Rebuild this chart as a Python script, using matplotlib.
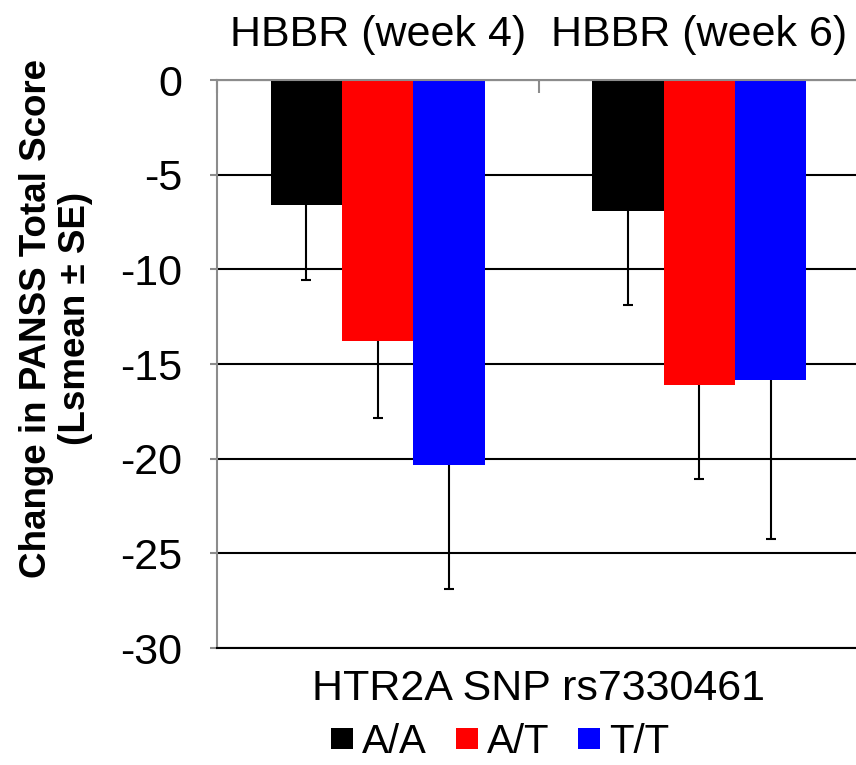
import matplotlib
matplotlib.use("Agg")
import matplotlib.pyplot as plt
from matplotlib.patches import Patch
import numpy as np

categories = ["HBBR (week 4)", "HBBR (week 6)"]
genotypes = ["A/A", "A/T", "T/T"]
colors = ["#000000", "#ff0000", "#0000ff"]
lsmean_AA = [-6.58, -6.93]
lsmean_AT = [-13.80, -16.10]
lsmean_TT = [-20.32, -15.83]
se_AA = [3.98, 4.98]
se_AT = [4.05, 4.97]
se_TT = [6.55, 8.42]
yticks = [0, -5, -10, -15, -20, -25, -30]

plt.rcParams['font.family'] = ['Liberation Sans', 'DejaVu Sans']

W, H = 856, 765
FS = 31
fig = plt.figure(figsize=(W / 100, H / 100), dpi=100)
ax = fig.add_axes([217 / W, (H - 648) / H, 643 / W, 568 / H])

x = np.arange(len(categories))
bw = 0.222
means = [lsmean_AA, lsmean_AT, lsmean_TT]
ses = [se_AA, se_AT, se_TT]
for i, (m, s, c) in enumerate(zip(means, ses, colors)):
    pos = x + (i - 1) * bw
    ax.bar(pos, m, width=bw, color=c, zorder=2, linewidth=0)
    yerr = np.array([s, np.zeros(len(s))])
    eb = ax.errorbar(pos, m, yerr=yerr, fmt='none', ecolor='black', elinewidth=1.5,
                     capsize=3.3, capthick=1.5, zorder=3)
    for cl in eb[1]:
        if np.allclose(cl.get_ydata(), m):
            cl.set_visible(False)

ax.set_xlim(-0.5, 1.5)
ax.set_ylim(-30, 0)
ax.set_yticks(yticks)
ax.set_yticklabels([str(v) for v in yticks], fontsize=FS)
ax.yaxis.grid(True, color='black', linewidth=1.5, zorder=0)
ax.set_axisbelow(True)

ax.set_xticks(x)
ax.set_xticklabels(categories, fontsize=FS)
ax.set_xticks([-0.5, 0.5, 1.5], minor=True)
ax.tick_params(axis='x', which='major', top=True, labeltop=True, bottom=False,
               labelbottom=False, length=0, pad=18)
ax.tick_params(axis='x', which='minor', top=True, bottom=False, direction='in',
               length=9, width=1.5, color='#8c8c8c')
ax.tick_params(axis='y', which='major', direction='out', length=5, width=1.5,
               color='#8c8c8c', pad=20)

for sp in ['top', 'left']:
    ax.spines[sp].set_color('#8c8c8c')
    ax.spines[sp].set_linewidth(1.5)
ax.spines['right'].set_visible(False)
ax.spines['bottom'].set_color('black')
ax.spines['bottom'].set_linewidth(1.5)

ax.xaxis.set_label_position('bottom')
ax.set_xlabel("HTR2A SNP rs7330461", fontsize=FS, labelpad=12)

fig.text(56 / W, 1 - 318 / H, "Change in PANSS Total Score\n(Lsmean \u00b1 SE)",
         rotation=90, ha='center', va='center', fontsize=26.5, fontweight='bold',
         multialignment='center', linespacing=1.15)

handles = [Patch(facecolor=c, edgecolor='none') for c in colors]
fig.legend(handles, genotypes, loc='center', bbox_to_anchor=(500 / W, 1 - 742 / H),
           ncol=3, frameon=False, fontsize=29, handlelength=0.55, handleheight=0.45,
           handletextpad=0.22, columnspacing=0.72, borderpad=0)

fig.savefig("out.png", dpi=100)
